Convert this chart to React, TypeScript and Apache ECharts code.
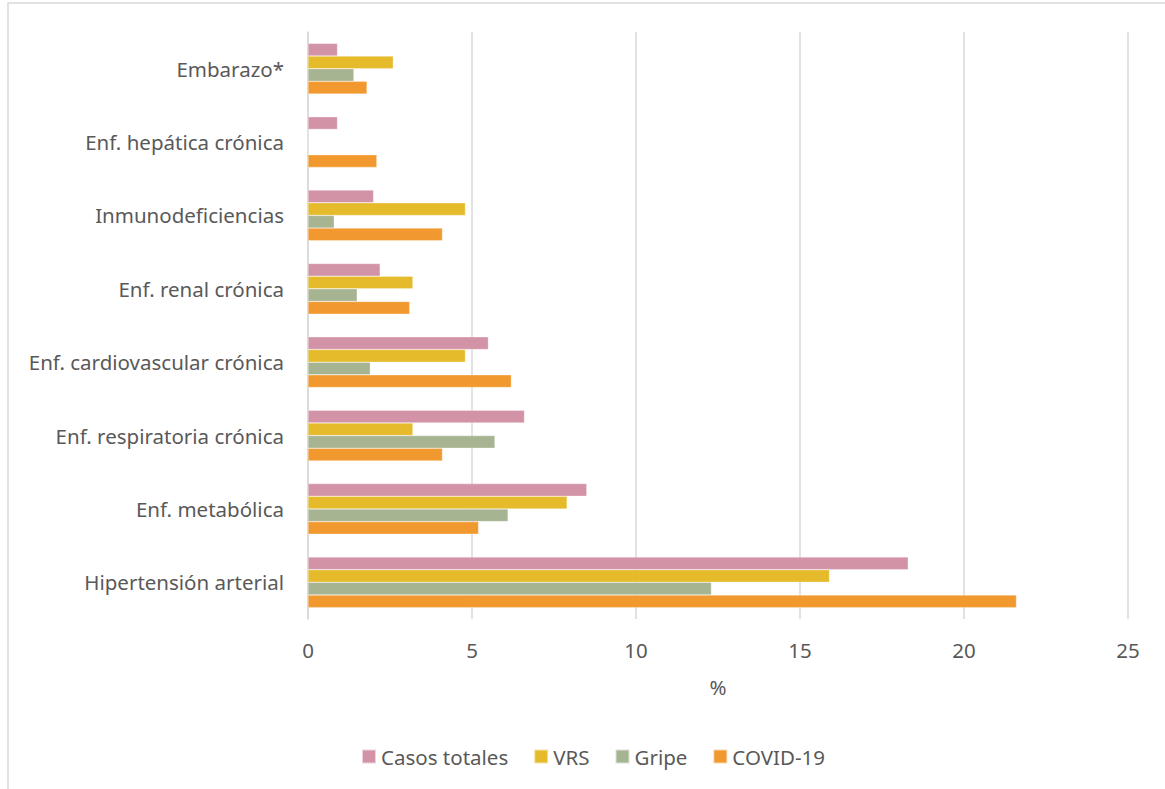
import React, { useEffect, useRef } from "react";
import * as echarts from "echarts";

const categories = [
  "Hipertensión arterial",
  "Enf. metabólica",
  "Enf. respiratoria crónica",
  "Enf. cardiovascular crónica",
  "Enf. renal crónica",
  "Inmunodeficiencias",
  "Enf. hepática crónica",
  "Embarazo*",
];

const casosTotales = [18.3, 8.5, 6.6, 5.5, 2.2, 2.0, 0.9, 0.9];
const vrs = [15.9, 7.9, 3.2, 4.8, 3.2, 4.8, 0, 2.6];
const gripe = [12.3, 6.1, 5.7, 1.9, 1.5, 0.8, 0, 1.4];
const covid = [21.6, 5.2, 4.1, 6.2, 3.1, 4.1, 2.1, 1.8];

const seriesNames = ["Casos totales", "VRS", "Gripe", "COVID-19"];
const seriesColors = ["#D293A7", "#E6BB2B", "#A7B492", "#F1992E"];
const seriesData = [casosTotales, vrs, gripe, covid];

const xTicks = { min: 0, max: 25, interval: 5 };

const FONT = "'Noto Sans', 'Open Sans', sans-serif";
const TEXT = "#595959";
const FS = 20.5;

export default function App() {
  const ref = useRef<HTMLDivElement>(null);
  useEffect(() => {
    if (!ref.current) return;
    const chart = echarts.init(ref.current, null, { renderer: "svg" });
    chart.setOption({
      animation: false,
      backgroundColor: "#ffffff",
      textStyle: { fontFamily: FONT, color: TEXT },
      graphic: [
        {
          type: "rect",
          shape: { x: 8, y: 3, width: 1200, height: 900 },
          style: { fill: "none", stroke: "#d9d9d9", lineWidth: 1.5 },
          silent: true,
        },
      ],
      legend: {
        data: seriesNames,
        bottom: 17,
        left: 356,
        itemWidth: 14,
        itemHeight: 14,
        itemGap: 25,
        icon: "rect",
        textStyle: { fontFamily: FONT, fontSize: FS, color: TEXT },
      },
      grid: { left: 308, right: 37, top: 32, height: 587 },
      xAxis: {
        type: "value",
        min: xTicks.min,
        max: xTicks.max,
        interval: xTicks.interval,
        name: "%",
        nameLocation: "middle",
        nameGap: 57,
        nameTextStyle: { fontFamily: FONT, fontSize: FS, color: TEXT },
        axisLine: { show: false },
        axisTick: { show: false },
        axisLabel: { fontFamily: FONT, fontSize: FS, color: TEXT, margin: 20 },
        splitLine: { show: true, lineStyle: { color: "#d9d9d9", width: 1.5 } },
      },
      yAxis: {
        type: "category",
        data: categories,
        axisLine: { show: true, lineStyle: { color: "#d9d9d9", width: 1.5 } },
        axisTick: { show: false },
        axisLabel: { fontFamily: FONT, fontSize: FS, color: TEXT, margin: 24 },
      },
      series: seriesNames.map((name, i) => ({
        name,
        type: "bar",
        data: seriesData[i],
        barGap: "0%",
        barCategoryGap: "31%",
        itemStyle: { color: seriesColors[i], borderColor: "rgba(255,255,255,0.6)", borderWidth: 0.5 },
      })),
    });
    return () => chart.dispose();
  }, []);
  return (
    <div
      ref={ref}
      style={{ position: "fixed", left: 0, top: 0, width: 1165, height: 789 }}
    />
  );
}
